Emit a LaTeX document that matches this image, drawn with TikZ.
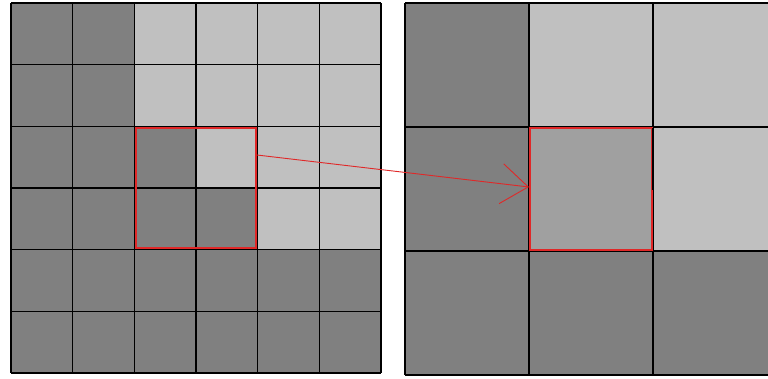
\documentclass[tikz,border=0pt]{standalone}
\usetikzlibrary{arrows.meta}
\definecolor{dk}{HTML}{808080}
\definecolor{lt}{HTML}{C0C0C0}
\definecolor{md}{HTML}{A0A0A0}
\definecolor{rd}{HTML}{E02828}
\tikzset{
  gridline/.style={black, line width=1.4pt},
  redbox/.style={rd, line width=2pt},
  redarrow/.style={rd, line width=0.9pt, -{Straight Barb[length=27pt,width=40pt,line width=0.9pt]}}
}
\begin{document}
\begin{tikzpicture}[x=1pt,y=-1pt]
\useasboundingbox (0,0) rectangle (768,378);
\fill[white] (0,0) rectangle (768,378);
% left grid 6x6, cell 61.67
\def\lx{11}\def\ly{3}\def\lc{61.67}
\foreach \r/\row in {0/{dk,dk,lt,lt,lt,lt},1/{dk,dk,lt,lt,lt,lt},2/{dk,dk,dk,lt,lt,lt},3/{dk,dk,dk,dk,lt,lt},4/{dk,dk,dk,dk,dk,dk},5/{dk,dk,dk,dk,dk,dk}}{
  \foreach \c [count=\i from 0] in \row {
    \fill[\c] ({\lx+\i*\lc},{\ly+\r*\lc}) rectangle ++(\lc,\lc);
  }
}
\foreach \i in {0,...,6}{
  \draw[gridline] ({\lx+\i*\lc},\ly) -- ({\lx+\i*\lc},{\ly+6*\lc});
  \draw[gridline] (\lx,{\ly+\i*\lc}) -- ({\lx+6*\lc},{\ly+\i*\lc});
}
% right grid 3x3, cell 124
\def\rx{405}\def\rc{124}
\foreach \r/\row in {0/{dk,lt,lt},1/{dk,md,lt},2/{dk,dk,dk}}{
  \foreach \c [count=\i from 0] in \row {
    \fill[\c] ({\rx+\i*\rc},{\ly+\r*\rc}) rectangle ++(\rc,\rc);
  }
}
\foreach \i in {0,1,2}{
  \draw[gridline] ({\rx+\i*\rc},\ly) -- ({\rx+\i*\rc},{\ly+3*\rc});
}
\foreach \i in {0,1,2,3}{
  \draw[gridline] (\rx,{\ly+\i*\rc}) -- (768,{\ly+\i*\rc});
}
% red boxes (just inside the grid lines)
\draw[redbox] (135.6,127.6) -- (256.4,127.6) -- (256.4,248.4) -- (135.6,248.4) -- cycle;
\draw[redbox] (530.2,128.2) -- (651.8,128.2) -- (651.8,249.8) -- (530.2,249.8) -- cycle;
\draw[black, line width=1.8pt] (652.4,128) -- (652.4,190);
% arrow
\coordinate (src) at (257,155);
\coordinate (dst) at (529,187);
\draw[redarrow] (src) -- (dst);
\end{tikzpicture}
\end{document}
